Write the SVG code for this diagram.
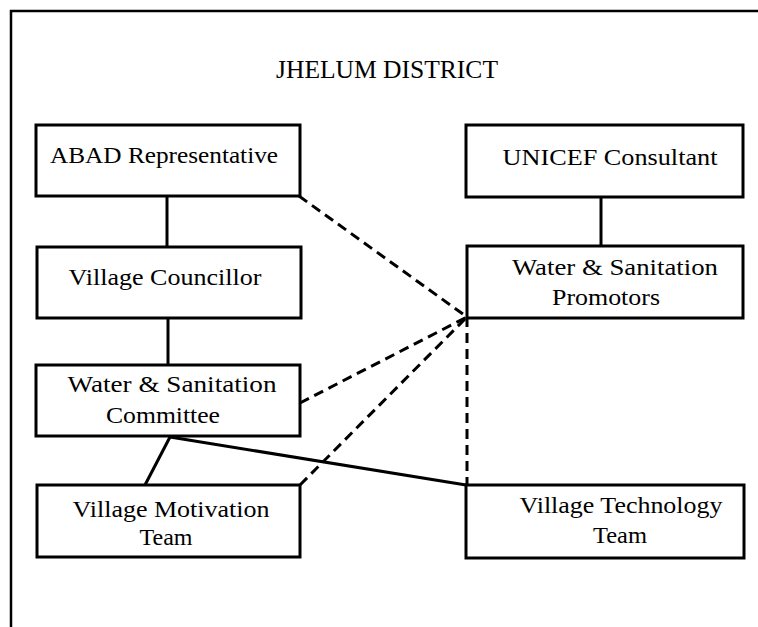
<svg xmlns="http://www.w3.org/2000/svg" width="758" height="627" viewBox="0 0 758 627">
<style>
  .box { fill: #fff; stroke: #000; stroke-width: 3; }
  .t { font-family: "Liberation Serif", "Times New Roman", serif; font-size: 22.5px; fill: #000; text-anchor: middle; }
  .title { font-family: "Liberation Serif", "Times New Roman", serif; font-size: 25px; fill: #000; text-anchor: middle; }
  .solid { stroke: #000; stroke-width: 3; fill: none; }
  .dash { stroke: #000; stroke-width: 3; fill: none; stroke-dasharray: 10 6; }
  .frame { stroke: #000; stroke-width: 2.5; fill: none; }
</style>
<rect width="758" height="627" fill="#fff"/>
<g id="frame">
  <path class="frame" d="M11,627 L11,11 L758,11"/>
</g>
<g id="title">
  <text class="title" x="387" y="78" textLength="222" lengthAdjust="spacingAndGlyphs">JHELUM DISTRICT</text>
</g>
<g id="connectors">
  <line class="solid" x1="167" y1="196" x2="167" y2="247"/>
  <line class="solid" x1="168" y1="318" x2="168" y2="365"/>
  <line class="solid" x1="601" y1="197" x2="601" y2="246"/>
  <line class="solid" x1="170" y1="437" x2="145" y2="485"/>
  <line class="solid" x1="170" y1="437" x2="466" y2="485"/>
  <line class="dash" x1="299" y1="196" x2="467" y2="317"/>
  <line class="dash" x1="300" y1="403" x2="467" y2="317"/>
  <line class="dash" x1="300" y1="485" x2="467" y2="317"/>
  <line class="dash" x1="467" y1="317" x2="467" y2="485"/>
</g>
<g id="abad">
  <rect class="box" x="36" y="125" width="264" height="71"/>
  <text class="t" x="164" y="163" textLength="228" lengthAdjust="spacingAndGlyphs">ABAD Representative</text>
</g>
<g id="unicef">
  <rect class="box" x="466" y="125" width="277" height="72"/>
  <text class="t" x="610" y="165" textLength="215" lengthAdjust="spacingAndGlyphs">UNICEF Consultant</text>
</g>
<g id="councillor">
  <rect class="box" x="37" y="247" width="264" height="71"/>
  <text class="t" x="165" y="285" textLength="193" lengthAdjust="spacingAndGlyphs">Village Councillor</text>
</g>
<g id="promotors">
  <rect class="box" x="467" y="246" width="276" height="72"/>
  <text class="t" x="615" y="275" textLength="206" lengthAdjust="spacingAndGlyphs">Water &amp; Sanitation</text>
  <text class="t" x="606" y="305" textLength="108" lengthAdjust="spacingAndGlyphs">Promotors</text>
</g>
<g id="committee">
  <rect class="box" x="36" y="365" width="264" height="71"/>
  <text class="t" x="172" y="392" textLength="209" lengthAdjust="spacingAndGlyphs">Water &amp; Sanitation</text>
  <text class="t" x="163" y="423" textLength="114" lengthAdjust="spacingAndGlyphs">Committee</text>
</g>
<g id="motivation">
  <rect class="box" x="37" y="485" width="263" height="72"/>
  <text class="t" x="171" y="517" textLength="197" lengthAdjust="spacingAndGlyphs">Village Motivation</text>
  <text class="t" x="166" y="545" textLength="53" lengthAdjust="spacingAndGlyphs">Team</text>
</g>
<g id="technology">
  <rect class="box" x="466" y="485" width="278" height="73"/>
  <text class="t" x="621" y="513" textLength="203" lengthAdjust="spacingAndGlyphs">Village Technology</text>
  <text class="t" x="620" y="543" textLength="54" lengthAdjust="spacingAndGlyphs">Team</text>
</g>
</svg>
